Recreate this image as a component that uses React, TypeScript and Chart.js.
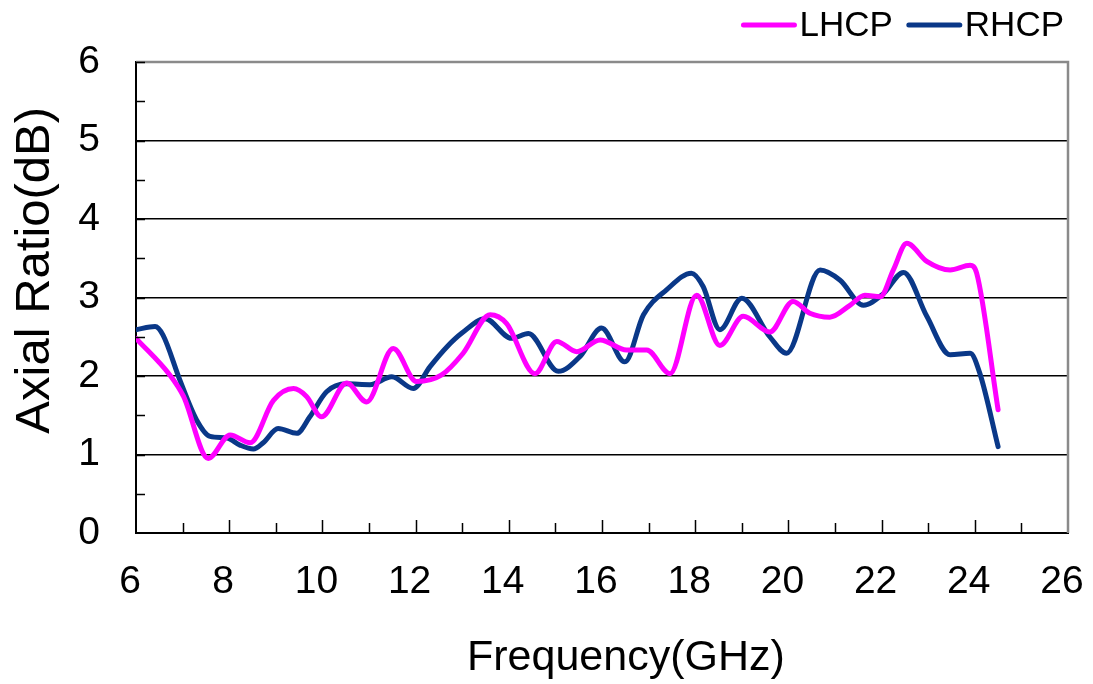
import { useEffect, useRef } from 'react';
import { Chart, registerables } from 'chart.js';

Chart.register(...registerables);

const seriesNames = ['LHCP', 'RHCP'];
const seriesColors = ['#FF00FF', '#0A3888'];

const lhcpFreq = [6.0, 6.73, 7.02, 7.55, 8.02, 8.45, 8.95, 9.38, 9.66, 9.98, 10.52, 10.95, 11.52, 12.02, 12.55, 13.02, 13.6, 13.95, 14.56, 15.03, 15.46, 15.96, 16.53, 16.96, 17.46, 18.03, 18.53, 19.03, 19.6, 20.1, 20.46, 20.89, 21.32, 21.64, 21.97, 22.25, 22.54, 22.97, 23.47, 23.9, 24.04, 24.5];
const lhcpAR = [2.48, 2.01, 1.74, 0.95, 1.25, 1.15, 1.69, 1.84, 1.74, 1.48, 1.91, 1.67, 2.35, 1.93, 2.01, 2.29, 2.78, 2.67, 2.03, 2.44, 2.31, 2.46, 2.33, 2.33, 2.03, 3.03, 2.39, 2.76, 2.56, 2.95, 2.8, 2.75, 2.9, 3.03, 3.01, 3.35, 3.69, 3.46, 3.35, 3.41, 3.31, 1.57];

const rhcpFreq = [6.0, 6.41, 6.58, 6.94, 7.3, 7.59, 7.95, 8.23, 8.52, 8.73, 9.05, 9.45, 9.73, 10.09, 10.52, 11.02, 11.49, 11.95, 12.31, 12.67, 13.0, 13.49, 14.06, 14.42, 15.06, 15.53, 15.99, 16.49, 16.89, 17.39, 17.92, 18.17, 18.53, 19.0, 19.6, 19.96, 20.68, 21.11, 21.61, 22.04, 22.47, 22.97, 23.47, 23.9, 24.11, 24.5];
const rhcpAR = [2.59, 2.63, 2.52, 1.95, 1.44, 1.23, 1.21, 1.12, 1.07, 1.15, 1.33, 1.27, 1.48, 1.8, 1.9, 1.89, 1.99, 1.84, 2.12, 2.37, 2.55, 2.73, 2.48, 2.54, 2.06, 2.25, 2.61, 2.18, 2.78, 3.1, 3.31, 3.14, 2.59, 2.99, 2.5, 2.29, 3.35, 3.22, 2.9, 3.05, 3.32, 2.76, 2.27, 2.29, 2.03, 1.1];

const xTickValues = [6, 8, 10, 12, 14, 16, 18, 20, 22, 24, 26];
const yTickValues = [0, 1, 2, 3, 4, 5, 6];
const xMinorTicks = [7, 8, 9, 10, 11, 12, 13, 14, 15, 16, 17, 18, 19, 20, 21, 22, 23, 24, 25];
const yMinorTicks = [0.5, 1, 1.5, 2, 2.5, 3, 3.5, 4, 4.5, 5, 5.5, 6];

const xTitle = 'Frequency(GHz)';
const yTitle = 'Axial Ratio(dB)';

const FONT = "'Liberation Sans', Arial, Helvetica, sans-serif";

const framePlugin = {
  id: 'frameAndLegend',
  afterDraw(chart: any) {
    const { ctx, chartArea: a, scales } = chart;
    const x = scales.x;
    const y = scales.y;
    ctx.save();
    ctx.strokeStyle = '#8a8a8a';
    ctx.lineWidth = 2.5;
    ctx.beginPath();
    ctx.moveTo(a.left, a.top);
    ctx.lineTo(a.right, a.top);
    ctx.lineTo(a.right, a.bottom);
    ctx.stroke();
    ctx.strokeStyle = '#000';
    ctx.lineWidth = 1.5;
    ctx.beginPath();
    xMinorTicks.forEach((f) => {
      const px = Math.round(x.getPixelForValue(f)) + 0.5;
      const len = f % 2 === 0 ? 13 : 10;
      ctx.moveTo(px, a.bottom);
      ctx.lineTo(px, a.bottom - len);
    });
    yMinorTicks.forEach((v) => {
      const py = Math.round(y.getPixelForValue(v)) + 0.5;
      ctx.moveTo(a.left, py);
      ctx.lineTo(a.left + 9, py);
    });
    ctx.stroke();

    ctx.font = `35px ${FONT}`;
    ctx.textBaseline = 'middle';
    ctx.textAlign = 'left';
    const sw = 55;
    const gap = 3;
    const itemGap = 14;
    const widths = chart.data.datasets.map((d: any) => ctx.measureText(d.label).width);
    const total = widths.reduce((s: number, w: number) => s + sw + gap + w, 0) + itemGap * (widths.length - 1);
    let lx = 1064 - total;
    const ly = 25;
    chart.data.datasets.forEach((d: any, i: number) => {
      ctx.strokeStyle = d.borderColor;
      ctx.lineWidth = 5;
      ctx.lineCap = 'round';
      ctx.beginPath();
      ctx.moveTo(lx + 2, ly);
      ctx.lineTo(lx + sw - 2, ly);
      ctx.stroke();
      ctx.fillStyle = '#000';
      ctx.fillText(d.label, lx + sw + gap, ly + 1);
      lx += sw + gap + widths[i] + itemGap;
    });
    ctx.restore();
  },
};

export default function App() {
  const canvasRef = useRef<HTMLCanvasElement | null>(null);

  useEffect(() => {
    if (!canvasRef.current) return;
    const toPoints = (fs: number[], vs: number[]) => fs.map((f, i) => ({ x: f, y: vs[i] }));
    const chart = new Chart(canvasRef.current, {
      type: 'line',
      data: {
        datasets: [
          {
            label: seriesNames[0],
            data: toPoints(lhcpFreq, lhcpAR),
            borderColor: seriesColors[0],
            backgroundColor: seriesColors[0],
          },
          {
            label: seriesNames[1],
            data: toPoints(rhcpFreq, rhcpAR),
            borderColor: seriesColors[1],
            backgroundColor: seriesColors[1],
          },
        ],
      },
      options: {
        animation: false,
        responsive: true,
        maintainAspectRatio: false,
        layout: { padding: { top: 62, right: 25, left: 0, bottom: 0 } },
        elements: {
          point: { radius: 0 },
          line: { borderWidth: 5, cubicInterpolationMode: 'monotone', borderCapStyle: 'round', borderJoinStyle: 'round' },
        },
        plugins: {
          legend: { display: false },
          tooltip: { enabled: false },
        },
        scales: {
          x: {
            type: 'linear',
            min: 6,
            max: 26,
            afterBuildTicks: (s: any) => {
              s.ticks = xTickValues.map((v) => ({ value: v }));
            },
            afterFit: (s: any) => {
              s.height = 151;
              s.paddingLeft = 0;
              s.paddingRight = 0;
            },
            grid: { display: true, color: 'rgba(0,0,0,0)', drawTicks: false },
            border: { display: true, color: '#000', width: 2 },
            ticks: {
              font: { family: FONT, size: 39 },
              color: '#000',
              padding: 26,
              labelOffset: -6,
              maxRotation: 0,
              autoSkip: false,
            },
            title: {
              display: true,
              text: '    ' + xTitle,
              color: '#000',
              font: { family: FONT, size: 43 },
              padding: { top: 0, bottom: 0 },
            },
          },
          y: {
            type: 'linear',
            min: 0,
            max: 6,
            afterBuildTicks: (s: any) => {
              s.ticks = yTickValues.map((v) => ({ value: v }));
            },
            afterFit: (s: any) => {
              s.width = 136;
              s.paddingTop = 0;
              s.paddingBottom = 0;
            },
            grid: {
              color: (c: any) => (c.tick && c.tick.value > 0 && c.tick.value < 6 ? '#000' : 'rgba(0,0,0,0)'),
              lineWidth: 1.5,
              drawTicks: false,
            },
            border: { display: true, color: '#000', width: 2 },
            ticks: {
              font: { family: FONT, size: 39 },
              color: '#000',
              padding: 36,
              autoSkip: false,
            },
            title: {
              display: true,
              text: '    ' + yTitle,
              color: '#000',
              font: { family: FONT, size: 49 },
              padding: { top: 6, bottom: 0 },
            },
          },
        },
      },
      plugins: [framePlugin],
    });
    return () => chart.destroy();
  }, []);

  return (
    <div style={{ position: 'fixed', left: 0, top: 0, width: 1093, height: 684, background: '#fff' }}>
      <canvas ref={canvasRef} />
    </div>
  );
}
